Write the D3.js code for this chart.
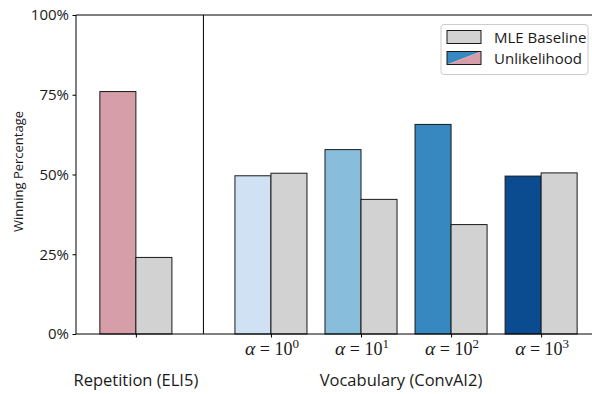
<!DOCTYPE html>
<html>
<head>
<meta charset="utf-8">
<script src="https://cdn.jsdelivr.net/npm/d3@7"></script>
<style>
  html, body { margin: 0; padding: 0; background: #fff; }
  svg { display: block; }
  text { font-family: "Open Sans", "DejaVu Sans", sans-serif; fill: #1a1a1a; }
</style>
</head>
<body>
<svg id="chart" width="592" height="394"></svg>
<script>
// Winning percentage of unlikelihood-trained models vs. MLE baseline
const groups = ["Repetition (ELI5)", "Vocabulary (ConvAI2)"];
const tickPos = [0, 1.5, 2.5, 3.5, 4.5];
const tickExponents = [null, "0", "1", "2", "3"];
const unlikelihoodValues = [76, 49.6, 57.8, 65.7, 49.5];
const baselineValues = [24, 50.4, 42.2, 34.3, 50.5];
const unlikelihoodColors = ["#d69ea9", "#cfe1f2", "#88bedc", "#3787c0", "#0b4b8f"];
const baselineColor = "#d3d2d3";
const yTicks = [0, 25, 50, 75, 100];
const legendLabels = ["MLE Baseline", "Unlikelihood"];

const svg = d3.select("#chart");
const plotLeft = 76, plotRight = 601, plotTop = 15, plotBottom = 334;
const barW = 0.4;

const x = d3.scaleLinear().domain([-0.665, 5.165]).range([plotLeft, plotRight]);
const y = d3.scaleLinear().domain([0, 100]).range([plotBottom, plotTop]);

// bars
const g = svg.append("g");
tickPos.forEach((p, i) => {
  g.append("rect")
    .attr("x", x(p - barW)).attr("y", y(unlikelihoodValues[i]))
    .attr("width", x(p) - x(p - barW)).attr("height", y(0) - y(unlikelihoodValues[i]))
    .attr("fill", unlikelihoodColors[i]).attr("stroke", "#1a1a1a").attr("stroke-width", 1);
  g.append("rect")
    .attr("x", x(p)).attr("y", y(baselineValues[i]))
    .attr("width", x(p + barW) - x(p)).attr("height", y(0) - y(baselineValues[i]))
    .attr("fill", baselineColor).attr("stroke", "#1a1a1a").attr("stroke-width", 1);
});

// separator between the two tasks
svg.append("line")
  .attr("x1", x(0.75)).attr("x2", x(0.75)).attr("y1", plotTop).attr("y2", plotBottom)
  .attr("stroke", "#000").attr("stroke-width", 1);

// spines
svg.append("line").attr("x1", plotLeft).attr("x2", plotLeft).attr("y1", plotTop).attr("y2", plotBottom)
  .attr("stroke", "#000").attr("stroke-width", 1);
svg.append("line").attr("x1", plotLeft).attr("x2", plotRight).attr("y1", plotTop).attr("y2", plotTop)
  .attr("stroke", "#000").attr("stroke-width", 1);
svg.append("line").attr("x1", plotLeft).attr("x2", plotRight).attr("y1", plotBottom).attr("y2", plotBottom)
  .attr("stroke", "#000").attr("stroke-width", 1);

// y axis
const yAxis = d3.axisLeft(y).tickValues(yTicks).tickFormat(d => d + "%").tickSize(3.5).tickPadding(3.5);
const ya = svg.append("g").attr("transform", `translate(${plotLeft},0)`).call(yAxis);
ya.select(".domain").remove();
ya.selectAll("text").style("font-size", "15px").style("font-family", "'Open Sans', 'DejaVu Sans', sans-serif").attr("fill", "#1a1a1a");
ya.selectAll("line").attr("stroke", "#000");

// x axis ticks with alpha labels
const xAxis = d3.axisBottom(x).tickValues(tickPos).tickFormat("").tickSize(3.5);
const xa = svg.append("g").attr("transform", `translate(0,${plotBottom})`).call(xAxis);
xa.select(".domain").remove();
xa.selectAll("line").attr("stroke", "#000");

tickPos.forEach((p, i) => {
  if (tickExponents[i] === null) return;
  const t = svg.append("text")
    .attr("x", x(p) + 1).attr("y", 355)
    .attr("text-anchor", "middle")
    .style("font-family", "'Liberation Serif', serif")
    .style("font-size", "18px");
  t.append("tspan").style("font-style", "italic").style("font-size", "19.5px").text("α");
  t.append("tspan").text(" = 10");
  t.append("tspan").attr("dy", -7).style("font-size", "13px").text(tickExponents[i]);
});

// group labels
svg.append("text").attr("x", x(0)).attr("y", 386).attr("text-anchor", "middle")
  .style("font-size", "16.5px").text(groups[0]);
svg.append("text").attr("x", 401).attr("y", 386).attr("text-anchor", "middle")
  .style("font-size", "16.5px").text(groups[1]);

// y label
svg.append("text")
  .attr("transform", `translate(23,${(plotTop + plotBottom) / 2 - 3}) rotate(-90)`)
  .attr("text-anchor", "middle")
  .style("font-size", "13px").text("Winning Percentage");

// legend
const lg = svg.append("g");
lg.append("rect").attr("x", 441).attr("y", 24.5).attr("width", 147).attr("height", 50).attr("rx", 3)
  .attr("fill", "#fff").attr("fill-opacity", 0.8).attr("stroke", "#ccc").attr("stroke-width", 1);
lg.append("rect").attr("x", 447).attr("y", 30.5).attr("width", 34).attr("height", 13)
  .attr("fill", baselineColor).attr("stroke", "#1a1a1a").attr("stroke-width", 1);
const defs = svg.append("defs");
defs.append("clipPath").attr("id", "upper").append("path").attr("d", "M447,64.5 L481,51.5 L447,51.5 Z");
defs.append("clipPath").attr("id", "lower").append("path").attr("d", "M447,64.5 L481,51.5 L481,64.5 Z");
lg.append("rect").attr("x", 447).attr("y", 51.5).attr("width", 34).attr("height", 13)
  .attr("fill", unlikelihoodColors[3]).attr("clip-path", "url(#upper)");
lg.append("rect").attr("x", 447).attr("y", 51.5).attr("width", 34).attr("height", 13)
  .attr("fill", unlikelihoodColors[0]).attr("clip-path", "url(#lower)");
lg.append("rect").attr("x", 447).attr("y", 51.5).attr("width", 34).attr("height", 13)
  .attr("fill", "none").attr("stroke", "#1a1a1a").attr("stroke-width", 1);
lg.append("text").attr("x", 494).attr("y", 42.5).style("font-size", "15px").text(legendLabels[0]);
lg.append("text").attr("x", 494).attr("y", 64).style("font-size", "15px").text(legendLabels[1]);
</script>
</body>
</html>
